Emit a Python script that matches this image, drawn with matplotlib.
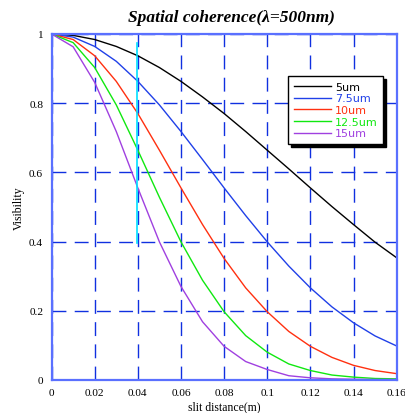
import numpy as np
import matplotlib
matplotlib.use("Agg")
import matplotlib.pyplot as plt

# slit separation (m), sampled every 0.01
d = [0.00, 0.01, 0.02, 0.03, 0.04, 0.05, 0.06, 0.07, 0.08,
     0.09, 0.10, 0.11, 0.12, 0.13, 0.14, 0.15, 0.16]

v_5 = [1.000, 0.996, 0.984, 0.964, 0.937, 0.903, 0.863, 0.818, 0.770,
       0.718, 0.664, 0.610, 0.555, 0.501, 0.449, 0.398, 0.353]
v_75 = [1.000, 0.991, 0.964, 0.921, 0.863, 0.795, 0.718, 0.637, 0.555,
        0.475, 0.399, 0.329, 0.266, 0.211, 0.165, 0.127, 0.098]
v_10 = [1.000, 0.984, 0.937, 0.863, 0.770, 0.664, 0.555, 0.449, 0.351,
        0.266, 0.197, 0.140, 0.097, 0.065, 0.042, 0.027, 0.018]
v_125 = [1.000, 0.975, 0.903, 0.795, 0.664, 0.528, 0.399, 0.288, 0.197,
         0.128, 0.080, 0.046, 0.027, 0.014, 0.008, 0.004, 0.003]
v_15 = [1.000, 0.963, 0.860, 0.718, 0.555, 0.399, 0.270, 0.168, 0.097,
        0.053, 0.030, 0.012, 0.006, 0.003, 0.002, 0.001, 0.001]

labels = ["5um", "7.5um", "10um", "12.5um", "15um"]
colors = ["black", "#2040e8", "#ff3010", "#10e810", "#a040e0"]

# cyan marker line
marker_x = [0.0395, 0.0395]
marker_y = [0.975, 0.395]

fig = plt.figure(figsize=(4.06, 4.14), dpi=100)
ax = fig.add_axes([0.127, 0.08, 0.85, 0.8355])

for vals, lab, col in zip([v_5, v_75, v_10, v_125, v_15], labels, colors):
    ax.plot(d, vals, color=col, lw=1.0, label=lab)

ax.plot(marker_x, marker_y, color="#00e0ff", lw=1.2)

ax.set_xlim(0, 0.16)
ax.set_ylim(0, 1)
ax.set_xticks(np.arange(0, 0.161, 0.02))
ax.set_xticklabels(["0", "0.02", "0.04", "0.06", "0.08", "0.1", "0.12", "0.14", "0.16"])
ax.set_yticks([0, 0.2, 0.4, 0.6, 0.8, 1])
ax.set_yticklabels(["0", "0.2", "0.4", "0.6", "0.8", "1"])
ax.tick_params(length=0, labelsize=8.2, pad=6)
for lab in ax.get_xticklabels() + ax.get_yticklabels():
    lab.set_family("Liberation Serif")

ax.grid(True, color="#1030e0", lw=1.0, linestyle=(0, (10, 6)))
for sp in ax.spines.values():
    sp.set_color("#5a70ff")
    sp.set_linewidth(1.6)

ax.set_xlabel("slit distance(m)", family="Liberation Serif", fontsize=8.5, labelpad=2)
ax.set_ylabel("Visibility", family="Liberation Serif", fontsize=8.5, labelpad=3)
ax.set_title("Spatial coherence(λ=500nm)", family="Liberation Serif",
             fontsize=12.5, fontweight="bold", style="italic", pad=9, x=0.52)

leg = ax.legend(loc="upper left", bbox_to_anchor=(0.686, 0.878), borderaxespad=0,
                fancybox=False, edgecolor="black", framealpha=1,
                shadow={"color": "black", "alpha": 1, "ox": 2, "oy": -2},
                labelcolor="linecolor",
                prop={"family": "DejaVu Sans", "size": 8}, handlelength=3.3,
                handletextpad=0.4, labelspacing=0.15, borderpad=0.5)
leg.get_frame().set_linewidth(1.0)

fig.savefig("out.png", dpi=100)
